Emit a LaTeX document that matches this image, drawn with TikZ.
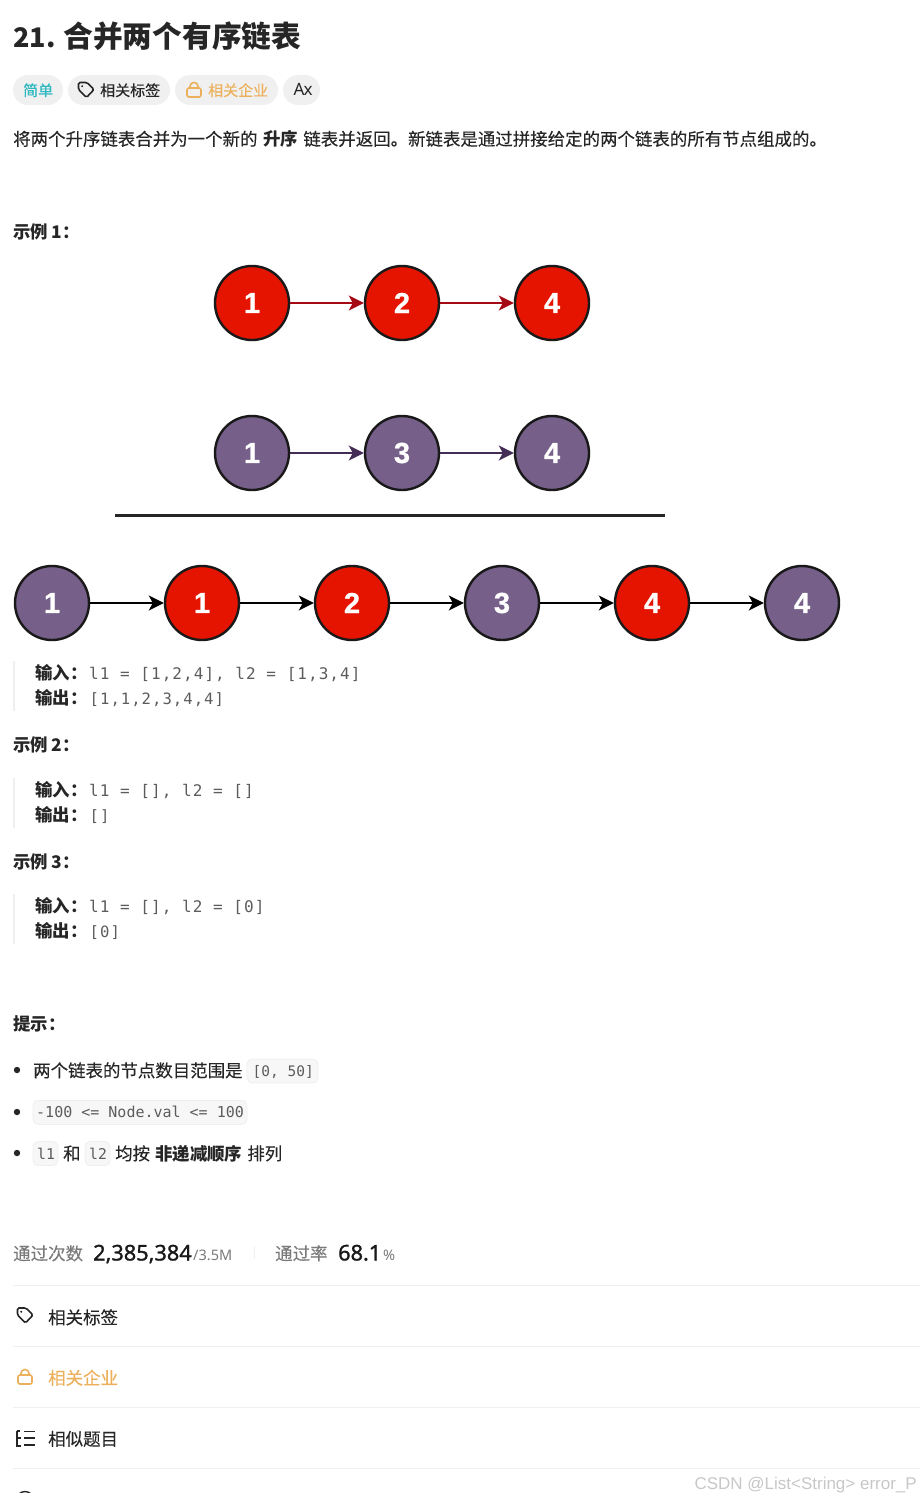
\documentclass[tikz,border=0pt]{standalone}
\usepackage{fontspec}
\setmainfont[FakeBold=0.2,BoldFeatures={FakeBold=0}]{Noto Sans CJK SC}
\newfontfamily\latinfont{Noto Sans}
\newfontfamily\numfont[FakeBold=1.2]{Noto Sans}
\newfontfamily\markfont{Liberation Sans}
\newfontfamily\digitfont[FakeBold=0.8]{Liberation Sans Bold}
\newfontfamily\quotefont[LetterSpace=6.5]{DejaVu Sans Mono}
\newfontfamily\codefont{DejaVu Sans Mono}
\usetikzlibrary{positioning}
\usetikzlibrary{arrows.meta}
\definecolor{inkcol}{HTML}{262626}
\definecolor{graycol}{HTML}{5C5C5C}
\definecolor{softcol}{HTML}{7A7A7A}
\definecolor{ruledcol}{HTML}{EFEFEF}
\definecolor{pillcol}{HTML}{F0F0F0}
\definecolor{codecol}{HTML}{F7F7F8}
\definecolor{orangecol}{HTML}{ECB05C}
\definecolor{tealcol}{HTML}{2DB8C0}
\newcommand{\fsz}[1]{\fontsize{#1}{#1}\selectfont}

\begin{document}
\begin{tikzpicture}[x=1pt,y=-1pt]

\tikzstyle{textnode} = [anchor=base west, inner sep=0pt, text=inkcol, font=\fsz{17.45}]
\tikzstyle{headnode} = [textnode, font=\fsz{17.4}\bfseries]
\tikzstyle{tagnode} = [textnode, font=\fsz{15}]
\tikzstyle{quotenode} = [textnode, font=\fsz{17.4}\bfseries]
\tikzstyle{outnode} = [anchor=base west, inner sep=0pt, text=graycol, font=\fsz{16}\quotefont]
\tikzstyle{resultnode} = [outnode, font=\fsz{15.6}\quotefont]
\tikzstyle{codenode} = [anchor=base west, inner sep=0pt, text=graycol, font=\fsz{14.8}\codefont]
\tikzstyle{softnode} = [textnode, text=softcol]
\tikzstyle{pillnode} = [fill=pillcol, rounded corners=15pt, inner sep=0pt, minimum height=30pt]
\tikzstyle{boxnode} = [fill=codecol, draw=ruledcol, line width=0.8pt, rounded corners=5pt, inner sep=0pt]
\tikzstyle{barnode} = [fill=ruledcol, inner sep=0pt, minimum width=2pt]
\tikzstyle{rednode} = [circle, draw=black!90, line width=2.4pt, fill={rgb,255:red,229;green,20;blue,0}, text=white, minimum size=74pt, inner sep=0pt, font=\digitfont\fsz{29}]
\tikzstyle{purplenode} = [rednode, fill={rgb,255:red,118;green,96;blue,138}]
\tikzstyle{myedgestyle} = [line width=2pt, -{Stealth[length=15pt,width=15pt,inset=4pt]}]
\tikzstyle{ruleline} = [line width=1pt, ruledcol]
\tikzset{
  tagicon/.pic={
    \draw [line width=1.6pt, rounded corners=1.5pt, inkcol] (-7.5,-7.5) -- (1,-7.5) -- (8,-0.5) -- (0.5,7.5) -- (-7.5,-0.5) -- cycle;
    \fill [inkcol] (-3.8,-3.8) circle (1.1pt);
  },
  lockicon/.pic={
    \draw [line width=1.6pt, rounded corners=2pt, orangecol] (-7,-2) rectangle (7,7);
    \draw [line width=1.6pt, rounded corners=3.8pt, orangecol] (-4,-2) -- (-4,-7.5) -- (4,-7.5) -- (4,-2);
  }
}

\useasboundingbox (0,0) rectangle (920,1498);

\node [textnode, font=\fsz{29.7}\bfseries] (title) at (13,48) {{\fsz{27}21.}\kern8pt 合并两个有序链表};

\node [pillnode, minimum width=50pt] (p1) at (38,90) {};
\node [pillnode, minimum width=102pt] (p2) at (119,90) {};
\node [pillnode, minimum width=103pt] (p3) at (226.5,90) {};
\node [pillnode, minimum width=37pt] (p4) at (301.5,90) {};
\node [tagnode, text=tealcol] (t1) at (23,96) {简单};
\pic at (86,90) {tagicon};
\node [tagnode] (t2) at (100,96) {相关标签};
\pic at (194,90) {lockicon};
\node [tagnode, text=orangecol] (t3) at (208,96) {相关企业};
\node [tagnode, font=\latinfont\fsz{17}] (t4) at (293.5,96) {A\kern-1pt x};

\node [textnode] (intro) at (13,145.5) {将两个升序链表合并为一个新的\kern5.5pt\textbf{升序}\kern5.5pt链表并返回。新链表是通过拼接给定的两个链表的所有节点组成的。};

\node [headnode] (ex1) at (13,238.5) {示例 1：};

\node [rednode] (r1) at (252,303) {1};
\node [rednode] (r2) at (402,303) {2};
\node [rednode] (r3) at (552,303) {4};
\draw [myedgestyle, color={rgb,255:red,165;green,10;blue,20}] (r1) edge (r2);
\draw [myedgestyle, color={rgb,255:red,165;green,10;blue,20}] (r2) edge (r3);

\node [purplenode] (q1) at (252,453) {1};
\node [purplenode] (q2) at (402,453) {3};
\node [purplenode] (q3) at (552,453) {4};
\draw [myedgestyle, color={rgb,255:red,67;green,45;blue,87}] (q1) edge (q2);
\draw [myedgestyle, color={rgb,255:red,67;green,45;blue,87}] (q2) edge (q3);

\coordinate (s1) at (115,515.5);
\coordinate (s2) at (665,515.5);
\draw [line width=2.2pt, color=black!85] (s1) -- (s2);

\node [purplenode] (m1) at (52,603) {1};
\node [rednode] (m2) at (202,603) {1};
\node [rednode] (m3) at (352,603) {2};
\node [purplenode] (m4) at (502,603) {3};
\node [rednode] (m5) at (652,603) {4};
\node [purplenode] (m6) at (802,603) {4};
\draw [myedgestyle] (m1) edge (m2);
\draw [myedgestyle] (m2) edge (m3);
\draw [myedgestyle] (m3) edge (m4);
\draw [myedgestyle] (m4) edge (m5);
\draw [myedgestyle] (m5) edge (m6);

\node [barnode, minimum height=50pt] (b1) at (14,686) {};
\node [quotenode] (i1) at (35,679.5) {输入：};
\node [outnode] (c1) at (89,679) {l1 = [1,2,4], l2 = [1,3,4]};
\node [quotenode] (o1) at (35,704.5) {输出：};
\node [resultnode] (d1) at (89.5,704) {[1,1,2,3,4,4]};

\node [headnode] (ex2) at (13,751) {示例 2：};
\node [barnode, minimum height=50pt] (b2) at (14,803) {};
\node [quotenode] (i2) at (35,796.5) {输入：};
\node [outnode] (c2) at (89,796) {l1 = [], l2 = []};
\node [quotenode] (o2) at (35,821.5) {输出：};
\node [resultnode] (d2) at (89.5,821) {[]};

\node [headnode] (ex3) at (13,868) {示例 3：};
\node [barnode, minimum height=50pt] (b3) at (14,919) {};
\node [quotenode] (i3) at (35,912.5) {输入：};
\node [outnode] (c3) at (89,912) {l1 = [], l2 = [0]};
\node [quotenode] (o3) at (35,937.5) {输出：};
\node [resultnode] (d3) at (89.5,937) {[0]};

\node [headnode] (tips) at (13,1030) {提示：};

\fill [inkcol] (17,1070) circle (3.2pt) (17,1112) circle (3.2pt) (17,1153) circle (3.2pt);
\node [textnode] (l1) at (33,1077) {两个链表的节点数目范围是};
\node [boxnode, minimum width=71pt, minimum height=24pt] (k1) at (282.5,1071) {};
\node [codenode, font=\fsz{14.5}\codefont] (k1t) at (252.5,1076) {[0, 50]};
\node [boxnode, minimum width=214pt, minimum height=24pt] (k2) at (140,1112.5) {};
\node [codenode, font=\fsz{15}\codefont] (k2t) at (36,1117.5) {-100 <= Node.val <= 100};
\node [boxnode, minimum width=25pt, minimum height=24pt] (k3) at (45.5,1153.5) {};
\node [codenode] (k3t) at (37,1159) {l1};
\node [textnode] (l2) at (63,1160) {和};
\node [boxnode, minimum width=25pt, minimum height=24pt] (k4) at (97.5,1153.5) {};
\node [codenode] (k4t) at (89,1159) {l2};
\node [textnode] (l3) at (115,1160) {均按\kern5pt\textbf{非递减顺序}\kern5pt排列};

\node [softnode] (s3) at (13,1260) {通过次数};
\node [anchor=base west, inner sep=0pt, text=black!90, font=\numfont\fsz{21.7}] (s4) at (93,1260.5) {2,385,384};
\node [anchor=base west, inner sep=0pt, text=softcol, font=\latinfont\fsz{14.5}] (s5) at (193,1260.5) {/3.5M};
\coordinate (s6) at (254.5,1246);
\coordinate (s7) at (254.5,1259);
\draw [ruleline] (s6) -- (s7);
\node [softnode] (s8) at (275,1260) {通过率};
\node [anchor=base west, inner sep=0pt, text=black!90, font=\numfont\fsz{21.7}] (s9) at (338,1260.5) {68.1};
\node [anchor=base west, inner sep=0pt, text=softcol, font=\latinfont\fsz{14.5}] (s10) at (383,1260.5) {\%};

\coordinate (e1) at (13,1285.5);
\coordinate (f1) at (920,1285.5);
\coordinate (e2) at (13,1346.5);
\coordinate (f2) at (920,1346.5);
\coordinate (e3) at (13,1407.5);
\coordinate (f3) at (920,1407.5);
\coordinate (e4) at (13,1468.5);
\coordinate (f4) at (920,1468.5);
\draw [ruleline] (e1) -- (f1);
\draw [ruleline] (e2) -- (f2);
\draw [ruleline] (e3) -- (f3);
\draw [ruleline] (e4) -- (f4);

\pic at (25,1315.5) {tagicon};
\node [textnode] (h1) at (48,1324) {相关标签};
\pic at (25,1377) {lockicon};
\node [textnode, text=orangecol] (h2) at (48,1384.5) {相关企业};
\draw [line width=2pt, inkcol] (16.5,1430.5) -- (16.5,1445.5) -- (21,1445.5) (16.5,1438) -- (21,1438);
\draw [line width=2pt, inkcol] (16.5,1431) -- (20,1431);
\draw [line width=1.6pt, inkcol] (24,1431.5) -- (35,1431.5) (24,1438) -- (35,1438) (24,1445) -- (35,1445);
\node [textnode] (h3) at (48,1445.5) {相似题目};

\begin{scope}
  \clip (0,1480) rectangle (920,1492);
  \draw [line width=1.4pt, inkcol] (25,1500) circle (8.5pt);
\end{scope}

\node [anchor=base east, inner sep=0pt, text=black!22, font=\markfont\fsz{17}] (mark) at (917,1489) {CSDN @List<String> error\_P};

\end{tikzpicture}
\end{document}
